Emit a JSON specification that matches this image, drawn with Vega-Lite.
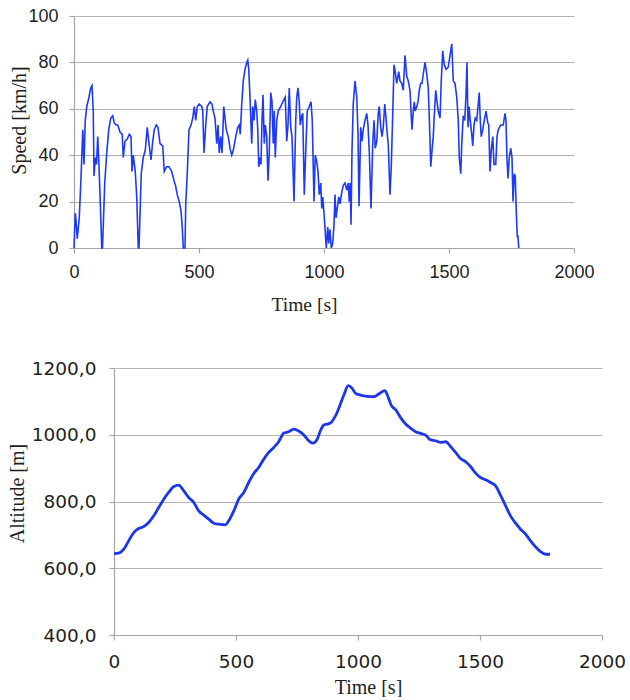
{
  "$schema": "https://vega.github.io/schema/vega-lite/v6.json",
  "background": "white",
  "padding": {"left": 0, "top": 7, "right": 5, "bottom": 0},
  "config": {
    "view": {"stroke": null},
    "axis": {
      "domainColor": "#a6a6a6",
      "domainWidth": 1.2,
      "gridColor": "#b4b4b4",
      "gridWidth": 1.2,
      "tickColor": "#a6a6a6",
      "tickSize": 5,
      "tickWidth": 1.2,
      "labelFont": "Liberation Sans",
      "labelFontSize": 18,
      "labelColor": "#1e1e1e",
      "labelOverlap": false,
      "labelFlush": false,
      "titleFont": "Liberation Serif",
      "titleFontWeight": "normal",
      "titleFontSize": 20,
      "titleColor": "#1e1e1e",
      "titleBaseline": "alphabetic"
    }
  },
  "datasets": {
    "speed": [
      {"t":0,"v":0},{"t":5,"v":15},{"t":8,"v":12},{"t":13,"v":4},{"t":21,"v":13},{"t":28,"v":30},{"t":35,"v":51},{"t":40,"v":36},{"t":45,"v":55},{"t":51,"v":61},{"t":58,"v":64},{"t":67,"v":69},{"t":72,"v":70},{"t":77,"v":59},{"t":80,"v":31},{"t":85,"v":39},{"t":90,"v":36},{"t":95,"v":48},{"t":100,"v":35},{"t":105,"v":20},{"t":111,"v":0},{"t":114,"v":0},{"t":123,"v":28},{"t":131,"v":41},{"t":139,"v":51},{"t":147,"v":56},{"t":155,"v":57},{"t":161,"v":54},{"t":168,"v":53},{"t":175,"v":53},{"t":184,"v":50},{"t":193,"v":49},{"t":197,"v":39},{"t":204,"v":46},{"t":213,"v":47},{"t":221,"v":49},{"t":228,"v":48},{"t":232,"v":33},{"t":237,"v":40},{"t":245,"v":33},{"t":251,"v":22},{"t":257,"v":0},{"t":260,"v":0},{"t":269,"v":32},{"t":277,"v":39},{"t":285,"v":42},{"t":293,"v":52},{"t":300,"v":45},{"t":308,"v":38},{"t":314,"v":45},{"t":321,"v":51},{"t":329,"v":53},{"t":336,"v":52},{"t":344,"v":45},{"t":355,"v":44},{"t":361,"v":33},{"t":370,"v":35},{"t":380,"v":35},{"t":391,"v":33},{"t":400,"v":29},{"t":406,"v":27},{"t":413,"v":23},{"t":421,"v":20},{"t":428,"v":16},{"t":433,"v":9},{"t":437,"v":0},{"t":444,"v":0},{"t":447,"v":19},{"t":453,"v":32},{"t":460,"v":51},{"t":468,"v":53},{"t":475,"v":56},{"t":481,"v":61},{"t":487,"v":55},{"t":493,"v":61},{"t":501,"v":62},{"t":511,"v":61},{"t":515,"v":59},{"t":520,"v":41},{"t":527,"v":53},{"t":533,"v":61},{"t":544,"v":63},{"t":552,"v":62},{"t":557,"v":59},{"t":564,"v":56},{"t":571,"v":45},{"t":576,"v":53},{"t":581,"v":41},{"t":587,"v":48},{"t":592,"v":41},{"t":599,"v":61},{"t":604,"v":56},{"t":609,"v":51},{"t":617,"v":48},{"t":624,"v":43},{"t":631,"v":40},{"t":637,"v":42},{"t":647,"v":48},{"t":655,"v":52},{"t":661,"v":53},{"t":665,"v":49},{"t":671,"v":62},{"t":677,"v":72},{"t":684,"v":77},{"t":691,"v":80},{"t":695,"v":81},{"t":699,"v":77},{"t":704,"v":65},{"t":711,"v":45},{"t":715,"v":61},{"t":720,"v":55},{"t":725,"v":64},{"t":731,"v":59},{"t":735,"v":51},{"t":739,"v":35},{"t":744,"v":39},{"t":748,"v":36},{"t":752,"v":55},{"t":756,"v":66},{"t":761,"v":45},{"t":765,"v":53},{"t":771,"v":48},{"t":776,"v":29},{"t":781,"v":41},{"t":787,"v":67},{"t":792,"v":63},{"t":797,"v":45},{"t":801,"v":59},{"t":805,"v":39},{"t":811,"v":55},{"t":817,"v":59},{"t":827,"v":61},{"t":835,"v":63},{"t":845,"v":65},{"t":851,"v":46},{"t":856,"v":53},{"t":861,"v":69},{"t":867,"v":52},{"t":872,"v":48},{"t":880,"v":20},{"t":887,"v":55},{"t":891,"v":65},{"t":896,"v":69},{"t":901,"v":63},{"t":905,"v":53},{"t":911,"v":57},{"t":915,"v":58},{"t":921,"v":23},{"t":928,"v":45},{"t":933,"v":59},{"t":941,"v":61},{"t":948,"v":63},{"t":953,"v":55},{"t":960,"v":20},{"t":965,"v":40},{"t":971,"v":37},{"t":976,"v":33},{"t":981,"v":23},{"t":987,"v":28},{"t":991,"v":17},{"t":995,"v":22},{"t":1000,"v":15},{"t":1005,"v":7},{"t":1009,"v":0},{"t":1015,"v":9},{"t":1019,"v":2},{"t":1024,"v":8},{"t":1029,"v":0},{"t":1035,"v":2},{"t":1040,"v":10},{"t":1044,"v":23},{"t":1048,"v":13},{"t":1053,"v":17},{"t":1059,"v":22},{"t":1064,"v":19},{"t":1071,"v":24},{"t":1077,"v":27},{"t":1084,"v":28},{"t":1091,"v":25},{"t":1097,"v":28},{"t":1101,"v":20},{"t":1105,"v":28},{"t":1108,"v":10},{"t":1112,"v":42},{"t":1117,"v":62},{"t":1124,"v":72},{"t":1131,"v":65},{"t":1136,"v":49},{"t":1140,"v":18},{"t":1147,"v":52},{"t":1152,"v":46},{"t":1157,"v":51},{"t":1164,"v":55},{"t":1171,"v":58},{"t":1176,"v":53},{"t":1181,"v":42},{"t":1188,"v":17},{"t":1195,"v":45},{"t":1200,"v":55},{"t":1205,"v":43},{"t":1211,"v":46},{"t":1217,"v":58},{"t":1221,"v":61},{"t":1227,"v":52},{"t":1232,"v":48},{"t":1237,"v":52},{"t":1243,"v":62},{"t":1248,"v":56},{"t":1253,"v":49},{"t":1257,"v":45},{"t":1264,"v":23},{"t":1269,"v":35},{"t":1275,"v":58},{"t":1280,"v":79},{"t":1285,"v":76},{"t":1291,"v":71},{"t":1299,"v":76},{"t":1304,"v":72},{"t":1311,"v":71},{"t":1317,"v":68},{"t":1324,"v":83},{"t":1331,"v":74},{"t":1337,"v":72},{"t":1344,"v":68},{"t":1348,"v":59},{"t":1352,"v":51},{"t":1357,"v":59},{"t":1361,"v":63},{"t":1365,"v":59},{"t":1371,"v":61},{"t":1376,"v":63},{"t":1381,"v":68},{"t":1387,"v":71},{"t":1392,"v":71},{"t":1397,"v":75},{"t":1404,"v":80},{"t":1411,"v":75},{"t":1417,"v":69},{"t":1421,"v":57},{"t":1427,"v":35},{"t":1432,"v":42},{"t":1437,"v":48},{"t":1441,"v":57},{"t":1447,"v":68},{"t":1452,"v":63},{"t":1457,"v":59},{"t":1464,"v":56},{"t":1469,"v":72},{"t":1475,"v":85},{"t":1481,"v":79},{"t":1488,"v":77},{"t":1497,"v":78},{"t":1504,"v":83},{"t":1511,"v":88},{"t":1517,"v":72},{"t":1524,"v":71},{"t":1531,"v":65},{"t":1537,"v":55},{"t":1541,"v":39},{"t":1547,"v":32},{"t":1551,"v":45},{"t":1557,"v":57},{"t":1563,"v":55},{"t":1568,"v":66},{"t":1572,"v":80},{"t":1576,"v":52},{"t":1580,"v":61},{"t":1585,"v":55},{"t":1591,"v":49},{"t":1595,"v":44},{"t":1600,"v":53},{"t":1605,"v":56},{"t":1611,"v":55},{"t":1616,"v":61},{"t":1621,"v":67},{"t":1625,"v":55},{"t":1629,"v":48},{"t":1635,"v":51},{"t":1641,"v":55},{"t":1648,"v":59},{"t":1655,"v":54},{"t":1659,"v":53},{"t":1664,"v":33},{"t":1669,"v":42},{"t":1675,"v":48},{"t":1680,"v":36},{"t":1687,"v":36},{"t":1692,"v":48},{"t":1697,"v":51},{"t":1707,"v":53},{"t":1717,"v":53},{"t":1724,"v":58},{"t":1728,"v":55},{"t":1732,"v":38},{"t":1736,"v":30},{"t":1741,"v":39},{"t":1747,"v":43},{"t":1752,"v":39},{"t":1756,"v":20},{"t":1761,"v":32},{"t":1765,"v":31},{"t":1769,"v":16},{"t":1773,"v":5},{"t":1776,"v":5},{"t":1779,"v":0}
    ],
    "alt": [
      {"t":0,"a":644},{"t":19,"a":645},{"t":40,"a":657},{"t":60,"a":682},{"t":81,"a":707},{"t":101,"a":719},{"t":122,"a":725},{"t":142,"a":737},{"t":163,"a":757},{"t":183,"a":782},{"t":204,"a":807},{"t":224,"a":827},{"t":245,"a":845},{"t":265,"a":849},{"t":286,"a":832},{"t":306,"a":812},{"t":327,"a":797},{"t":347,"a":772},{"t":368,"a":759},{"t":388,"a":747},{"t":409,"a":735},{"t":429,"a":732},{"t":457,"a":730},{"t":470,"a":742},{"t":491,"a":772},{"t":511,"a":807},{"t":532,"a":827},{"t":552,"a":857},{"t":573,"a":884},{"t":593,"a":902},{"t":614,"a":927},{"t":634,"a":947},{"t":655,"a":962},{"t":675,"a":979},{"t":696,"a":1005},{"t":716,"a":1009},{"t":737,"a":1017},{"t":757,"a":1011},{"t":778,"a":999},{"t":798,"a":982},{"t":815,"a":975},{"t":833,"a":987},{"t":846,"a":1012},{"t":860,"a":1029},{"t":887,"a":1035},{"t":908,"a":1057},{"t":928,"a":1092},{"t":942,"a":1119},{"t":960,"a":1147},{"t":976,"a":1139},{"t":990,"a":1124},{"t":1010,"a":1119},{"t":1038,"a":1115},{"t":1065,"a":1114},{"t":1085,"a":1122},{"t":1110,"a":1132},{"t":1124,"a":1112},{"t":1137,"a":1087},{"t":1154,"a":1075},{"t":1174,"a":1052},{"t":1195,"a":1032},{"t":1215,"a":1020},{"t":1236,"a":1009},{"t":1256,"a":1004},{"t":1277,"a":999},{"t":1297,"a":985},{"t":1318,"a":982},{"t":1338,"a":977},{"t":1359,"a":979},{"t":1379,"a":965},{"t":1400,"a":947},{"t":1420,"a":929},{"t":1441,"a":919},{"t":1461,"a":905},{"t":1482,"a":885},{"t":1502,"a":872},{"t":1523,"a":865},{"t":1543,"a":857},{"t":1564,"a":847},{"t":1584,"a":819},{"t":1605,"a":787},{"t":1625,"a":757},{"t":1646,"a":735},{"t":1666,"a":717},{"t":1687,"a":702},{"t":1707,"a":682},{"t":1728,"a":664},{"t":1748,"a":650},{"t":1769,"a":642},{"t":1787,"a":642}
    ]
  },
  "spacing": 45,
  "vconcat": [
    {
      "spacing": 8,
      "hconcat": [
        {"width": 1, "height": 1, "data": {"values": []}, "mark": {"type": "point", "opacity": 0}},
        {
          "width": 500,
          "height": 232,
          "data": {"name": "speed"},
          "mark": {"type": "line", "color": "#1f3af5", "strokeWidth": 1.6},
          "encoding": {
            "x": {
              "field": "t", "type": "quantitative",
              "scale": {"domain": [0, 2000], "nice": false},
              "axis": {"values": [0, 500, 1000, 1500, 2000], "format": "d", "grid": false, "title": "Time [s]", "titleX": 230, "titleY": 62, "labelPadding": 10.5, "titleFontSize": 19.5}
            },
            "y": {
              "field": "v", "type": "quantitative",
              "scale": {"domain": [0, 100], "nice": false},
              "axis": {"values": [0, 20, 40, 60, 80, 100], "format": "d", "grid": true, "title": "Speed [km/h]", "titleX": -49, "titleY": 104, "labelPadding": 11}
            }
          }
        }
      ]
    },
    {
      "spacing": 5,
      "hconcat": [
        {"width": 1, "height": 1, "data": {"values": []}, "mark": {"type": "point", "opacity": 0}},
        {
          "width": 488,
          "height": 267,
          "data": {"name": "alt"},
          "mark": {"type": "line", "color": "#1d36ea", "strokeWidth": 2.8, "interpolate": "monotone"},
          "encoding": {
            "x": {
              "field": "t", "type": "quantitative",
              "scale": {"domain": [0, 2000], "nice": false},
              "axis": {"values": [0, 500, 1000, 1500, 2000], "format": "d", "grid": false, "title": "Time [s]", "titleX": 254, "titleY": 58, "labelPadding": 12, "labelFont": "DejaVu Sans", "labelFontSize": 18.5}
            },
            "y": {
              "field": "a", "type": "quantitative",
              "scale": {"domain": [400, 1200], "nice": false, "zero": false},
              "axis": {"values": [400, 600, 800, 1000, 1200], "grid": true, "title": "Altitude [m]", "titleX": -91, "titleY": 125, "labelPadding": 13, "labelFont": "DejaVu Sans", "labelFontSize": 18.5, "labelExpr": "replace(format(datum.value, '.1f'), '.', ',')"}
            }
          }
        }
      ]
    }
  ]
}
